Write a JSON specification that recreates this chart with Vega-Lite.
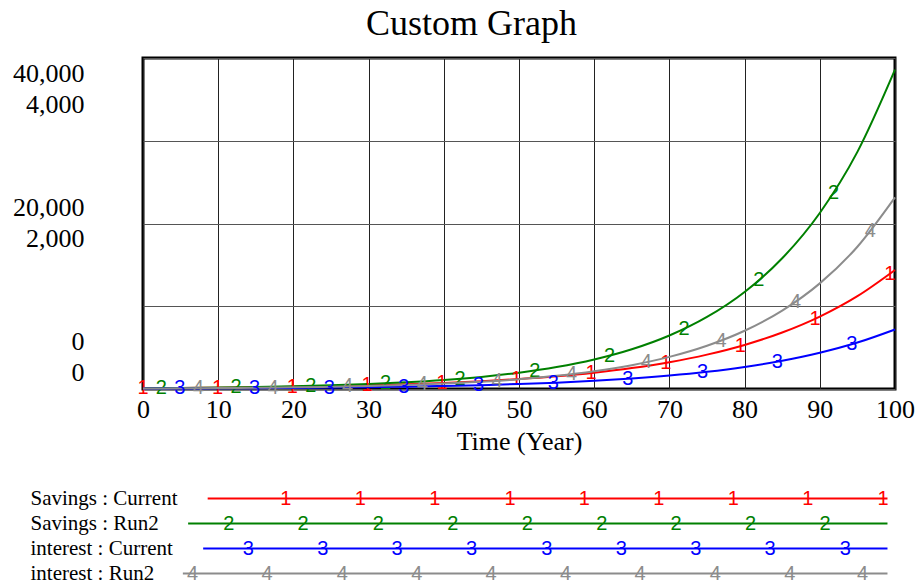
{
  "$schema": "https://vega.github.io/schema/vega-lite/v6.json",
  "padding": {"left": 11, "top": 5, "right": 5, "bottom": 5},
  "title": {"text": "Custom Graph", "font": "Liberation Serif", "fontSize": 36, "fontWeight": "normal", "color": "black", "anchor": "middle", "offset": 14, "dx": 8},
  "config": {"font": "Liberation Serif", "view": {"stroke": null}},
  "datasets": {
    "savings": [
      {"t":0,"series":"Savings : Current","value":100},{"t":5,"series":"Savings : Current","value":128.2},{"t":10,"series":"Savings : Current","value":164.4},{"t":15,"series":"Savings : Current","value":210.7},{"t":20,"series":"Savings : Current","value":270.1},{"t":25,"series":"Savings : Current","value":346.3},{"t":30,"series":"Savings : Current","value":444.0},{"t":35,"series":"Savings : Current","value":569.2},{"t":40,"series":"Savings : Current","value":729.7},{"t":45,"series":"Savings : Current","value":935.5},{"t":50,"series":"Savings : Current","value":1199.3},{"t":55,"series":"Savings : Current","value":1537.6},{"t":60,"series":"Savings : Current","value":1971.3},{"t":65,"series":"Savings : Current","value":2527.2},{"t":70,"series":"Savings : Current","value":3240.0},{"t":75,"series":"Savings : Current","value":4153.7},{"t":80,"series":"Savings : Current","value":5325.2},{"t":85,"series":"Savings : Current","value":6827.1},{"t":90,"series":"Savings : Current","value":8752.3},{"t":95,"series":"Savings : Current","value":11221},{"t":100,"series":"Savings : Current","value":14385},
      {"t":0,"series":"Savings : Run2","value":100},{"t":5,"series":"Savings : Run2","value":134.7},{"t":10,"series":"Savings : Run2","value":181.4},{"t":15,"series":"Savings : Run2","value":244.3},{"t":20,"series":"Savings : Run2","value":329.1},{"t":25,"series":"Savings : Run2","value":443.2},{"t":30,"series":"Savings : Run2","value":597.0},{"t":35,"series":"Savings : Run2","value":804.0},{"t":40,"series":"Savings : Run2","value":1082.9},{"t":45,"series":"Savings : Run2","value":1458.5},{"t":50,"series":"Savings : Run2","value":1964.5},{"t":55,"series":"Savings : Run2","value":2645.9},{"t":60,"series":"Savings : Run2","value":3563.7},{"t":65,"series":"Savings : Run2","value":4799.8},{"t":70,"series":"Savings : Run2","value":6464.5},{"t":75,"series":"Savings : Run2","value":8707},{"t":80,"series":"Savings : Run2","value":11727},{"t":85,"series":"Savings : Run2","value":15795},{"t":90,"series":"Savings : Run2","value":21274},{"t":95,"series":"Savings : Run2","value":28653},{"t":100,"series":"Savings : Run2","value":38592}
    ],
    "interest": [
      {"t":0,"series":"interest : Current","value":5},{"t":5,"series":"interest : Current","value":6.41},{"t":10,"series":"interest : Current","value":8.22},{"t":15,"series":"interest : Current","value":10.54},{"t":20,"series":"interest : Current","value":13.51},{"t":25,"series":"interest : Current","value":17.32},{"t":30,"series":"interest : Current","value":22.2},{"t":35,"series":"interest : Current","value":28.46},{"t":40,"series":"interest : Current","value":36.49},{"t":45,"series":"interest : Current","value":46.78},{"t":50,"series":"interest : Current","value":59.97},{"t":55,"series":"interest : Current","value":76.88},{"t":60,"series":"interest : Current","value":98.57},{"t":65,"series":"interest : Current","value":126.36},{"t":70,"series":"interest : Current","value":162.0},{"t":75,"series":"interest : Current","value":207.7},{"t":80,"series":"interest : Current","value":266.3},{"t":85,"series":"interest : Current","value":341.4},{"t":90,"series":"interest : Current","value":437.6},{"t":95,"series":"interest : Current","value":561.1},{"t":100,"series":"interest : Current","value":719.3},
      {"t":0,"series":"interest : Run2","value":6},{"t":5,"series":"interest : Run2","value":8.08},{"t":10,"series":"interest : Run2","value":10.88},{"t":15,"series":"interest : Run2","value":14.66},{"t":20,"series":"interest : Run2","value":19.75},{"t":25,"series":"interest : Run2","value":26.59},{"t":30,"series":"interest : Run2","value":35.82},{"t":35,"series":"interest : Run2","value":48.24},{"t":40,"series":"interest : Run2","value":64.97},{"t":45,"series":"interest : Run2","value":87.51},{"t":50,"series":"interest : Run2","value":117.87},{"t":55,"series":"interest : Run2","value":158.75},{"t":60,"series":"interest : Run2","value":213.82},{"t":65,"series":"interest : Run2","value":287.99},{"t":70,"series":"interest : Run2","value":387.87},{"t":75,"series":"interest : Run2","value":522.4},{"t":80,"series":"interest : Run2","value":703.6},{"t":85,"series":"interest : Run2","value":947.7},{"t":90,"series":"interest : Run2","value":1276.4},{"t":95,"series":"interest : Run2","value":1719.2},{"t":100,"series":"interest : Run2","value":2315.5}
    ],
    "savingsMarks": [
      {"t":0,"series":"Savings : Current","n":"1","value":100},{"t":9.93,"series":"Savings : Current","n":"1","value":163.8},{"t":19.86,"series":"Savings : Current","n":"1","value":268.3},{"t":29.79,"series":"Savings : Current","n":"1","value":439.4},{"t":39.72,"series":"Savings : Current","n":"1","value":719.7},{"t":49.65,"series":"Savings : Current","n":"1","value":1178.7},{"t":59.58,"series":"Savings : Current","n":"1","value":1930.7},{"t":69.51,"series":"Savings : Current","n":"1","value":3162.1},{"t":79.44,"series":"Savings : Current","n":"1","value":5179.1},{"t":89.37,"series":"Savings : Current","n":"1","value":8482.6},{"t":99.3,"series":"Savings : Current","n":"1","value":13893},
      {"t":2.45,"series":"Savings : Run2","n":"2","value":115.7},{"t":12.38,"series":"Savings : Run2","n":"2","value":209.0},{"t":22.31,"series":"Savings : Run2","n":"2","value":377.6},{"t":32.24,"series":"Savings : Run2","n":"2","value":682.2},{"t":42.17,"series":"Savings : Run2","n":"2","value":1232.3},{"t":52.1,"series":"Savings : Run2","n":"2","value":2226.3},{"t":62.03,"series":"Savings : Run2","n":"2","value":4021.5},{"t":71.96,"series":"Savings : Run2","n":"2","value":7265},{"t":81.89,"series":"Savings : Run2","n":"2","value":13124},{"t":91.82,"series":"Savings : Run2","n":"2","value":23707}
    ],
    "interestMarks": [
      {"t":4.9,"series":"interest : Current","n":"3","value":6.38},{"t":14.83,"series":"interest : Current","n":"3","value":10.45},{"t":24.76,"series":"interest : Current","n":"3","value":17.11},{"t":34.69,"series":"interest : Current","n":"3","value":28.03},{"t":44.62,"series":"interest : Current","n":"3","value":45.9},{"t":54.55,"series":"interest : Current","n":"3","value":75.18},{"t":64.48,"series":"interest : Current","n":"3","value":123.1},{"t":74.41,"series":"interest : Current","n":"3","value":201.7},{"t":84.34,"series":"interest : Current","n":"3","value":330.3},{"t":94.27,"series":"interest : Current","n":"3","value":541.1},
      {"t":7.35,"series":"interest : Run2","n":"4","value":9.3},{"t":17.28,"series":"interest : Run2","n":"4","value":16.79},{"t":27.21,"series":"interest : Run2","n":"4","value":30.33},{"t":37.14,"series":"interest : Run2","n":"4","value":54.8},{"t":47.07,"series":"interest : Run2","n":"4","value":98.99},{"t":57.0,"series":"interest : Run2","n":"4","value":178.8},{"t":66.93,"series":"interest : Run2","n":"4","value":323.1},{"t":76.86,"series":"interest : Run2","n":"4","value":583.6},{"t":86.79,"series":"interest : Run2","n":"4","value":1054.3},{"t":96.72,"series":"interest : Run2","n":"4","value":1904.5}
    ],
    "legendLines": [
      {"series":"Savings : Current","start":8.6,"end":99.0},
      {"series":"Savings : Run2","start":6.0,"end":99.0},
      {"series":"interest : Current","start":8.0,"end":99.0},
      {"series":"interest : Run2","start":5.3,"end":99.0}
    ],
    "legendMarks": [
      {"series":"Savings : Current","n":"1","x":19.0},{"series":"Savings : Current","n":"1","x":28.9},{"series":"Savings : Current","n":"1","x":38.8},{"series":"Savings : Current","n":"1","x":48.8},{"series":"Savings : Current","n":"1","x":58.7},{"series":"Savings : Current","n":"1","x":68.6},{"series":"Savings : Current","n":"1","x":78.5},{"series":"Savings : Current","n":"1","x":88.4},{"series":"Savings : Current","n":"1","x":98.4},
      {"series":"Savings : Run2","n":"2","x":11.4},{"series":"Savings : Run2","n":"2","x":21.3},{"series":"Savings : Run2","n":"2","x":31.3},{"series":"Savings : Run2","n":"2","x":41.2},{"series":"Savings : Run2","n":"2","x":51.1},{"series":"Savings : Run2","n":"2","x":61.0},{"series":"Savings : Run2","n":"2","x":70.9},{"series":"Savings : Run2","n":"2","x":80.8},{"series":"Savings : Run2","n":"2","x":90.7},
      {"series":"interest : Current","n":"3","x":14.0},{"series":"interest : Current","n":"3","x":23.9},{"series":"interest : Current","n":"3","x":33.8},{"series":"interest : Current","n":"3","x":43.7},{"series":"interest : Current","n":"3","x":53.7},{"series":"interest : Current","n":"3","x":63.6},{"series":"interest : Current","n":"3","x":73.5},{"series":"interest : Current","n":"3","x":83.4},{"series":"interest : Current","n":"3","x":93.4},
      {"series":"interest : Run2","n":"4","x":6.6},{"series":"interest : Run2","n":"4","x":16.5},{"series":"interest : Run2","n":"4","x":26.5},{"series":"interest : Run2","n":"4","x":36.4},{"series":"interest : Run2","n":"4","x":46.3},{"series":"interest : Run2","n":"4","x":56.2},{"series":"interest : Run2","n":"4","x":66.1},{"series":"interest : Run2","n":"4","x":76.1},{"series":"interest : Run2","n":"4","x":86.0},{"series":"interest : Run2","n":"4","x":95.7}
    ]
  },
  "spacing": 30,
  "vconcat": [
    {
      "width": 752,
      "height": 331,
      "view": {"stroke": "black", "strokeWidth": 3},
      "layer": [
        {
          "layer": [
            {
              "data": {"name": "savings"},
              "mark": {"type": "line", "strokeWidth": 2, "interpolate": "monotone"},
              "encoding": {
                "x": {"field": "t", "type": "quantitative", "scale": {"domain": [0, 100], "nice": false},
                  "axis": {"values": [0,5,10,15,20,25,30,35,40,45,50,55,60,65,70,75,80,85,90,95,100],
                    "labelExpr": "datum.value % 10 === 0 ? datum.label : ''",
                    "ticks": false, "domain": false, "grid": true, "gridColor": "#222", "gridWidth": 1,
                    "labelFont": "Liberation Serif", "labelFontSize": 26, "labelColor": "black", "labelPadding": 7,
                    "labelFlush": false, "labelOverlap": false,
                    "title": "Time (Year)", "titleFont": "Liberation Serif", "titleFontSize": 26, "titleFontWeight": "normal", "titleColor": "black", "titlePadding": 6}},
                "y": {"field": "value", "type": "quantitative", "scale": {"domain": [0, 40000], "nice": false},
                  "axis": {"values": [0,10000,20000,30000,40000],
                    "labelExpr": "datum.value % 20000 === 0 ? [format(datum.value, ','), format(datum.value / 10, ',')] : ''",
                    "ticks": false, "tickSize": 0, "domain": false, "grid": true, "gridColor": "#555", "gridWidth": 1,
                    "labelFont": "Liberation Serif", "labelFontSize": 26, "labelColor": "black", "labelPadding": 59,
                    "labelLineHeight": 31, "labelBaseline": "middle", "labelOverlap": false, "labelFlush": false,
                    "labelOffset": {"condition": [{"test": "datum.value === 40000", "value": 15}, {"test": "datum.value === 0", "value": -48}], "value": -16},
                    "title": null}},
                "color": {"field": "series", "type": "nominal",
                  "scale": {"domain": ["Savings : Current", "Savings : Run2", "interest : Current", "interest : Run2"], "range": ["#ff0000", "#008000", "#0000ff", "#8c8c8c"]},
                  "legend": null}
              }
            },
            {
              "data": {"name": "savingsMarks"},
              "mark": {"type": "text", "font": "Liberation Sans", "fontSize": 20, "baseline": "middle", "align": "center"},
              "encoding": {
                "x": {"field": "t", "type": "quantitative"},
                "y": {"field": "value", "type": "quantitative"},
                "text": {"field": "n"},
                "color": {"field": "series", "type": "nominal", "legend": null}
              }
            }
          ]
        },
        {
          "layer": [
            {
              "data": {"name": "interest"},
              "mark": {"type": "line", "strokeWidth": 2, "interpolate": "monotone"},
              "encoding": {
                "x": {"field": "t", "type": "quantitative"},
                "y": {"field": "value", "type": "quantitative", "scale": {"domain": [0, 4000], "nice": false}, "axis": null},
                "color": {"field": "series", "type": "nominal", "legend": null}
              }
            },
            {
              "data": {"name": "interestMarks"},
              "mark": {"type": "text", "font": "Liberation Sans", "fontSize": 20, "baseline": "middle", "align": "center"},
              "encoding": {
                "x": {"field": "t", "type": "quantitative"},
                "y": {"field": "value", "type": "quantitative"},
                "text": {"field": "n"},
                "color": {"field": "series", "type": "nominal", "legend": null}
              }
            }
          ]
        }
      ],
      "resolve": {"scale": {"y": "independent"}, "axis": {"y": "independent"}}
    },
    {
      "width": 752,
      "height": 100,
      "layer": [
        {
          "data": {"name": "legendLines"},
          "mark": {"type": "rule", "strokeWidth": 2},
          "encoding": {
            "x": {"field": "start", "type": "quantitative", "scale": {"domain": [0, 100], "nice": false}, "axis": null},
            "x2": {"field": "end"},
            "y": {"field": "series", "type": "nominal",
              "sort": ["Savings : Current", "Savings : Run2", "interest : Current", "interest : Run2"],
              "scale": {"type": "point", "padding": 0.5},
              "axis": {"title": null, "domain": false, "ticks": false, "tickSize": 0, "grid": false, "labelAlign": "left", "labelPadding": 113,
                "labelFont": "Liberation Serif", "labelFontSize": 21, "labelColor": "black"}},
            "color": {"field": "series", "type": "nominal",
              "scale": {"domain": ["Savings : Current", "Savings : Run2", "interest : Current", "interest : Run2"], "range": ["#ff0000", "#008000", "#0000ff", "#8c8c8c"]},
              "legend": null}
          }
        },
        {
          "data": {"name": "legendMarks"},
          "mark": {"type": "text", "font": "Liberation Sans", "fontSize": 20, "baseline": "middle", "align": "center"},
          "encoding": {
            "x": {"field": "x", "type": "quantitative"},
            "y": {"field": "series", "type": "nominal", "sort": ["Savings : Current", "Savings : Run2", "interest : Current", "interest : Run2"]},
            "text": {"field": "n"},
            "color": {"field": "series", "type": "nominal", "legend": null}
          }
        }
      ]
    }
  ]
}
